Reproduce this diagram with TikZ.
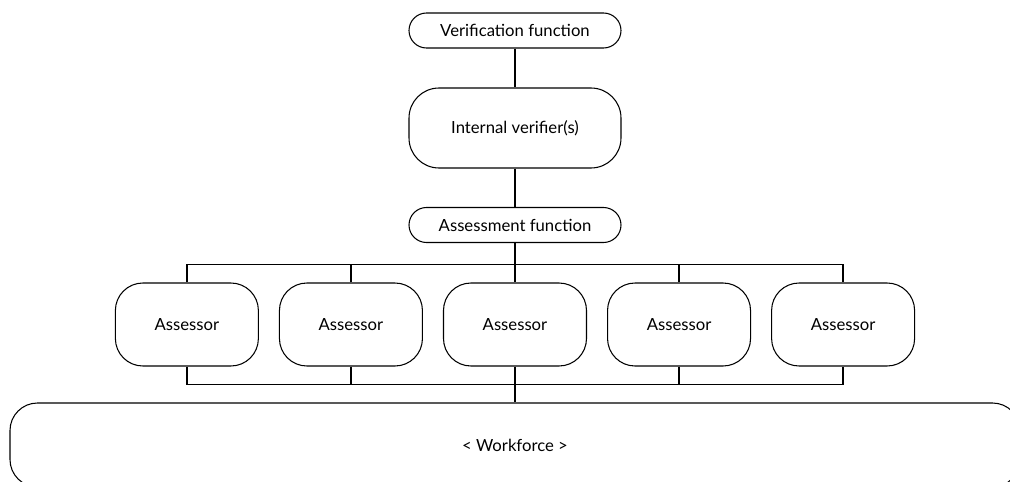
\documentclass[tikz,border=0pt]{standalone}
\usepackage{fontspec}
\setmainfont{Lato}
\usetikzlibrary{matrix,positioning}
\tikzset{
func/.style={
    rectangle,
    draw,
    line width=0.6pt,
    minimum width=4.24cm,
    minimum height=0.7cm,
    rounded corners=0.35cm,
    align=center
},
verifier/.style={
    func,
    minimum height=1.6cm,
    rounded corners=0.6cm
},
assessor/.style={
    rectangle,
    draw,
    line width=0.6pt,
    minimum width=2.86cm,
    minimum height=1.66cm,
    rounded corners=0.55cm
},
workforce/.style={
    rectangle,
    draw,
    line width=0.6pt,
    minimum width=20.2cm,
    minimum height=1.68cm,
    rounded corners=0.55cm
},
link/.style={
    line width=1.1pt
}
}

\begin{document}
\begin{tikzpicture}[font=\fontsize{9.5}{11}\selectfont]
\useasboundingbox (0,0) rectangle (20.2,-9.64);

\node[func] (verif) at (10.3,-0.61) {Verification function};
\node[verifier] (internal) at (10.3,-2.56) {Internal verifier(s)};
\node[func] (assess) at (10.3,-4.5) {Assessment function};
\matrix (a) at (10.3,-6.49) [matrix of nodes, column sep=0.4cm, nodes={assessor}]{
Assessor & Assessor & Assessor & Assessor & Assessor \\
};
\node[workforce] (work) at (10.3,-8.9) {< Workforce >};

% vertical chain
\draw[link] (verif) -- (internal);
\draw[link] (internal) -- (assess);
\draw[link] (assess) -- (a-1-3);
\draw[link] (a-1-3) -- (work);

% buses above and below the assessors
\draw[link] (a-1-1.north) -- ++(0,0.36) -| (a-1-5.north);
\draw[link] (a-1-1.south) -- ++(0,-0.36) -| (a-1-5.south);
\foreach \i in {2,4}{
    \draw[link] (a-1-\i.north) -- ++(0,0.36);
    \draw[link] (a-1-\i.south) -- ++(0,-0.36);
}

\end{tikzpicture}
\end{document}
